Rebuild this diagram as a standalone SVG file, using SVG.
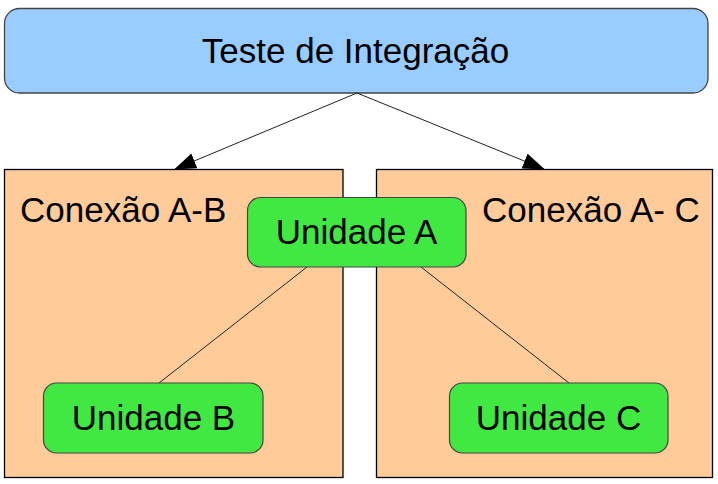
<svg xmlns="http://www.w3.org/2000/svg" width="718" height="484" viewBox="0 0 718 484">
<defs>
<style>
.t{font-family:"Liberation Sans",Arial,sans-serif;font-size:35px;fill:#000}
.grp{fill:#ffcc99;stroke:#000;stroke-width:1.3}
.unit{fill:#42e842;stroke:#444;stroke-width:1.2}
.conn{stroke:#222;stroke-width:1;fill:none}
</style>
<marker id="ah" markerUnits="userSpaceOnUse" markerWidth="22" markerHeight="16" viewBox="0 0 22 16" refX="21" refY="8" orient="auto">
<path d="M0,0 L22,8 L0,16 z" fill="#000"/>
</marker>
</defs>
<rect width="718" height="484" fill="#fff"/>
<g id="teste-integracao">
<rect x="4.5" y="8.5" width="703.5" height="84.5" rx="15" fill="#99ccff" stroke="#444" stroke-width="1.3"/>
<text class="t" x="355.5" y="63" text-anchor="middle">Teste de Integração</text>
</g>
<g id="conexao-ab">
<rect class="grp" x="4.5" y="169.5" width="338.5" height="308"/>
<text class="t" x="20" y="222">Conexão A-B</text>
</g>
<g id="conexao-ac">
<rect class="grp" x="376.5" y="169.5" width="336" height="308"/>
<text class="t" x="482" y="222">Conexão A- C</text>
</g>
<g id="connectors">
<line class="conn" x1="357" y1="93" x2="175" y2="169" marker-end="url(#ah)"/>
<line class="conn" x1="357" y1="93" x2="544" y2="169" marker-end="url(#ah)"/>
<line class="conn" x1="307" y1="267" x2="159" y2="383"/>
<line class="conn" x1="421" y1="267" x2="569" y2="383"/>
</g>
<g id="unidade-a">
<rect class="unit" x="247.5" y="197.5" width="218.5" height="69.5" rx="13"/>
<text class="t" x="356.5" y="244" text-anchor="middle">Unidade A</text>
</g>
<g id="unidade-b">
<rect class="unit" x="43.5" y="383" width="219.5" height="70" rx="13"/>
<text class="t" x="153.5" y="430" text-anchor="middle">Unidade B</text>
</g>
<g id="unidade-c">
<rect class="unit" x="449.5" y="383" width="218.5" height="70" rx="13"/>
<text class="t" x="558.5" y="430" text-anchor="middle">Unidade C</text>
</g>
</svg>
